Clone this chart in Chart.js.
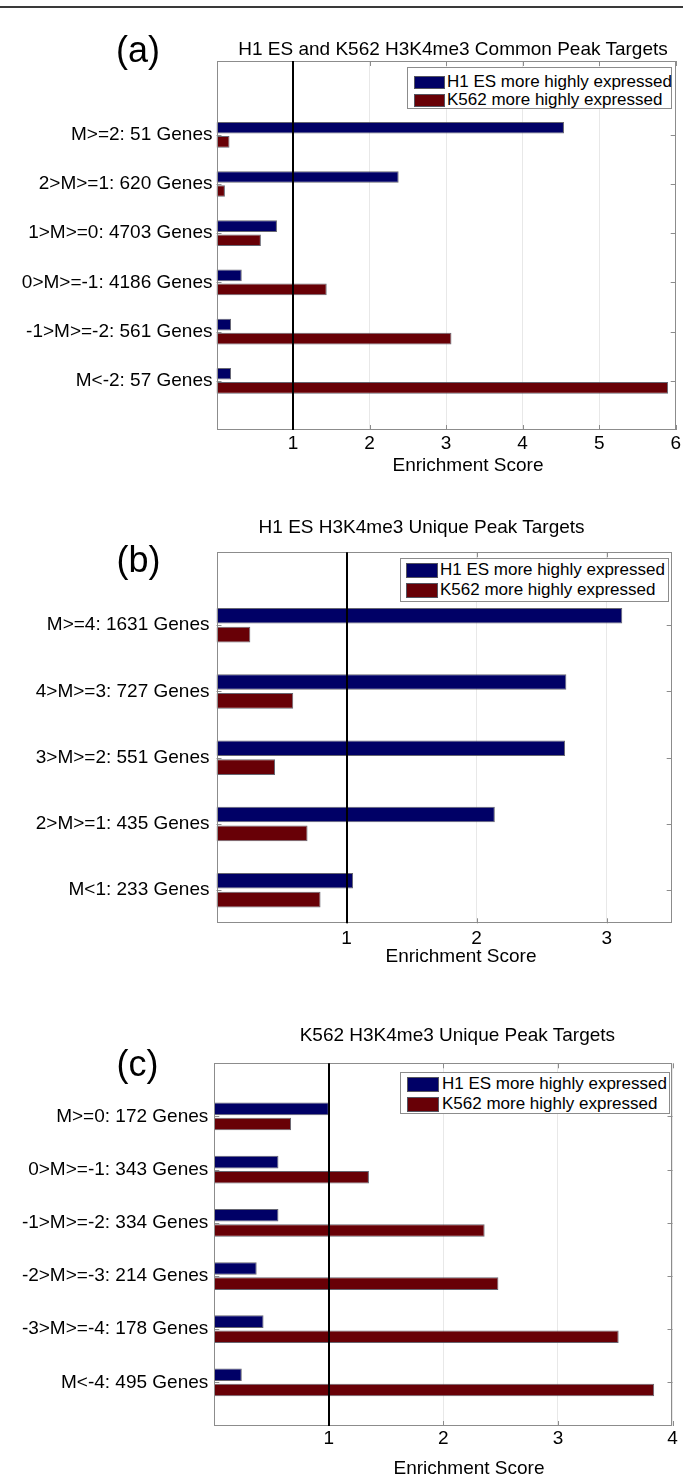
<!DOCTYPE html>
<html>
<head>
<meta charset="utf-8">
<script src="https://cdn.jsdelivr.net/npm/chart.js@4.4.1/dist/chart.umd.min.js"></script>
<style>
  html, body { margin: 0; padding: 0; background: #fff; }
  body { width: 683px; height: 1479px; position: relative; overflow: hidden;
         font-family: "Liberation Sans", Arial, sans-serif; color: #000; }
  .rule { position: absolute; left: 0; top: 6px; width: 683px; height: 2px; background: #3a3a3a; }
  .panel { position: absolute; left: 0; width: 683px; }
  .panel canvas { position: absolute; left: 0; top: 0; }
  .txt { position: absolute; white-space: nowrap; line-height: 1; transform: translateX(-50%); }
  .legend { position: absolute; background: #fff; border: 1px solid #8c8c8c; box-sizing: border-box; }
  .legend .sw { position: absolute; box-sizing: border-box; border: 1px solid #555560; }
  .legend .lt { position: absolute; white-space: nowrap; line-height: 1; font-size: 17px; }
</style>
</head>
<body>
<div class="rule"></div>
<script>
// ---- series shared by all three panels ----
const SERIES_NAMES = ['H1 ES more highly expressed', 'K562 more highly expressed'];
const SERIES_COLORS = ['#000066', '#680006'];
const REF_SCORE = 1;
const X_TITLE = 'Enrichment Score';

// ---- (a) common peak targets ----
const catsA  = ['M>=2: 51 Genes', '2>M>=1: 620 Genes', '1>M>=0: 4703 Genes',
                '0>M>=-1: 4186 Genes', '-1>M>=-2: 561 Genes', 'M<-2: 57 Genes'];
const h1A    = [4.54, 2.38, 0.79, 0.33, 0.19, 0.19];
const k562A  = [0.17, 0.11, 0.58, 1.44, 3.07, 5.90];
const xTicksA = [1, 2, 3, 4, 5, 6];

// ---- (b) H1 ES unique peak targets ----
const catsB  = ['M>=4: 1631 Genes', '4>M>=3: 727 Genes', '3>M>=2: 551 Genes',
                '2>M>=1: 435 Genes', 'M<1: 233 Genes'];
const h1B    = [3.12, 2.69, 2.68, 2.14, 1.05];
const k562B  = [0.26, 0.59, 0.45, 0.70, 0.80];
const xTicksB = [1, 2, 3];

// ---- (c) K562 unique peak targets ----
const catsC  = ['M>=0: 172 Genes', '0>M>=-1: 343 Genes', '-1>M>=-2: 334 Genes',
                '-2>M>=-3: 214 Genes', '-3>M>=-4: 178 Genes', 'M<-4: 495 Genes'];
const h1C    = [1.00, 0.56, 0.56, 0.37, 0.43, 0.24];
const k562C  = [0.67, 1.35, 2.36, 2.48, 3.53, 3.84];
const xTicksC = [1, 2, 3, 4];

// ---- panel layout (page coordinates) ----
const PANELS = [
  { tag: '(a)', title: 'H1 ES and K562 H3K4me3 Common Peak Targets',
    cats: catsA, h1: h1A, k562: k562A, xTicks: xTicksA, xMax: 6, yMin: 0, yMax: 7.5,
    box: { top: 0, height: 490 },
    plot: { left: 216.5, right: 679, top: 61, bottom: 430 },
    xPad: 2, yPad: 4,
    tagPos: [138, 32], titlePos: [453, 39], xTitlePos: [468, 455],
    legend: { left: 407, top: 67, w: 265, h: 41.5, sx: 5.7, sw: 31, sh: 13, rows: [8, 25.7], tx: 39 } },
  { tag: '(b)', title: 'H1 ES H3K4me3 Unique Peak Targets',
    cats: catsB, h1: h1B, k562: k562B, xTicks: xTicksB, xMax: 3.5, yMin: 0.5, yMax: 6.1,
    box: { top: 490, height: 495 },
    plot: { left: 216.5, right: 671.7, top: 552.3, bottom: 923.3 },
    xPad: 3.6, yPad: 7,
    tagPos: [138.5, 542], titlePos: [421.6, 517.4], xTitlePos: [461, 945.7],
    legend: { left: 399.6, top: 558.3, w: 269.4, h: 43.4, sx: 5.4, sw: 31.7, sh: 15, rows: [4, 24], tx: 39.4 } },
  { tag: '(c)', title: 'K562 H3K4me3 Unique Peak Targets',
    cats: catsC, h1: h1C, k562: k562C, xTicks: xTicksC, xMax: 4, yMin: 0.18, yMax: 7,
    box: { top: 985, height: 494 },
    plot: { left: 214.3, right: 672.5, top: 1063.3, bottom: 1426 },
    xPad: 1, yPad: 6,
    tagPos: [137.5, 1046], titlePos: [457.4, 1024.7], xTitlePos: [469, 1458.2],
    legend: { left: 400.4, top: 1071.7, w: 270, h: 42.6, sx: 5.6, sw: 32, sh: 14.7, rows: [4.3, 24.3], tx: 40.6 } }
];

const FONT_FAMILY = "'Liberation Sans', Arial, sans-serif";

// Axes box, inward tick marks and the reference line at score 1
const framePlugin = {
  id: 'frame',
  afterDatasetsDraw(chart, args, opts) {
    const { ctx, chartArea: { left, right, top, bottom }, scales: { x, y } } = chart;
    ctx.save();
    ctx.strokeStyle = '#8c8c8c';
    ctx.lineWidth = 1;
    ctx.beginPath();
    x.ticks.forEach(t => {
      const px = Math.round(x.getPixelForValue(t.value)) + 0.5;
      ctx.moveTo(px, top); ctx.lineTo(px, top + 5);
      ctx.moveTo(px, bottom); ctx.lineTo(px, bottom - 5);
    });
    y.ticks.forEach(t => {
      const py = Math.round(y.getPixelForValue(t.value)) + 0.5;
      ctx.moveTo(right, py); ctx.lineTo(right - 5, py);
      ctx.moveTo(left, py); ctx.lineTo(left + 5, py);
    });
    ctx.stroke();
    ctx.strokeRect(Math.round(left) + 0.5, Math.round(top) + 0.5,
                   Math.round(right - left) - 1, Math.round(bottom - top) - 1);
    const rx = Math.round(x.getPixelForValue(opts.ref));
    ctx.strokeStyle = '#000';
    ctx.lineWidth = 2;
    ctx.beginPath();
    ctx.moveTo(rx, top); ctx.lineTo(rx, bottom);
    ctx.stroke();
    ctx.restore();
  }
};

function addText(str, cx, top, size) {
  const d = document.createElement('div');
  d.className = 'txt';
  d.textContent = str;
  d.style.left = cx + 'px';
  d.style.top = top + 'px';
  d.style.fontSize = size + 'px';
  document.body.appendChild(d);
}

function addLegend(L) {
  const box = document.createElement('div');
  box.className = 'legend';
  Object.assign(box.style, { left: L.left + 'px', top: L.top + 'px', width: L.w + 'px', height: L.h + 'px' });
  SERIES_NAMES.forEach((name, i) => {
    const sw = document.createElement('div');
    sw.className = 'sw';
    Object.assign(sw.style, { left: L.sx + 'px', top: L.rows[i] + 'px', width: L.sw + 'px', height: L.sh + 'px',
                              background: SERIES_COLORS[i] });
    const lt = document.createElement('div');
    lt.className = 'lt';
    lt.textContent = name;
    Object.assign(lt.style, { left: L.tx + 'px', top: (L.rows[i] + L.sh / 2 - 8.3 - 1) + 'px' });
    box.appendChild(sw);
    box.appendChild(lt);
  });
  document.body.appendChild(box);
}

PANELS.forEach(P => {
  const n = P.cats.length;
  const wrap = document.createElement('div');
  wrap.className = 'panel';
  wrap.style.top = P.box.top + 'px';
  wrap.style.height = P.box.height + 'px';
  const cv = document.createElement('canvas');
  cv.width = 683; cv.height = P.box.height;
  cv.style.width = '683px'; cv.style.height = P.box.height + 'px';
  wrap.appendChild(cv);
  document.body.appendChild(wrap);

  // category i sits at position n - i so the first category is on top
  const series = [P.h1, P.k562];
  const datasets = series.map((vals, s) => ({
    label: SERIES_NAMES[s],
    data: vals.map((v, i) => ({ x: v, y: n - i })),
    backgroundColor: SERIES_COLORS[s],
    borderColor: 'rgba(75,75,88,0.85)',
    borderWidth: 1,
    borderSkipped: 'start',
    categoryPercentage: 0.57,
    barPercentage: 0.83
  }));

  new Chart(cv, {
    type: 'bar',
    data: { datasets },
    options: {
      indexAxis: 'y',
      responsive: false,
      animation: false,
      layout: { padding: { left: 0, top: P.plot.top - P.box.top, right: 683 - P.plot.right, bottom: 0 } },
      plugins: { legend: { display: false }, tooltip: { enabled: false }, title: { display: false },
                 frame: { ref: REF_SCORE } },
      scales: {
        x: {
          type: 'linear', position: 'bottom', min: 0, max: P.xMax, offset: false,
          afterBuildTicks: s => { s.ticks = P.xTicks.map(v => ({ value: v })); },
          afterFit: s => { s.height = P.box.top + P.box.height - P.plot.bottom; },
          grid: { color: '#e8e8e8', drawTicks: false, lineWidth: 1, offset: false },
          border: { display: false },
          ticks: { color: '#000', padding: P.xPad, autoSkip: false, maxRotation: 0,
                   font: { family: FONT_FAMILY, size: 19 } }
        },
        y: {
          type: 'linear', position: 'left', min: P.yMin, max: P.yMax, offset: false,
          afterBuildTicks: s => { s.ticks = P.cats.map((c, i) => ({ value: n - i })); },
          afterFit: s => { s.width = P.plot.left; },
          grid: { display: false, drawTicks: false, offset: false },
          border: { display: false },
          ticks: { color: '#000', padding: P.yPad, autoSkip: false,
                   callback: v => P.cats[n - v],
                   font: { family: FONT_FAMILY, size: 19 } }
        }
      }
    },
    plugins: [framePlugin]
  });

  addText(P.tag, P.tagPos[0], P.tagPos[1], 36);
  addText(P.title, P.titlePos[0], P.titlePos[1], 19);
  addText(X_TITLE, P.xTitlePos[0], P.xTitlePos[1], 19);
  addLegend(P.legend);
});
</script>
</body>
</html>
